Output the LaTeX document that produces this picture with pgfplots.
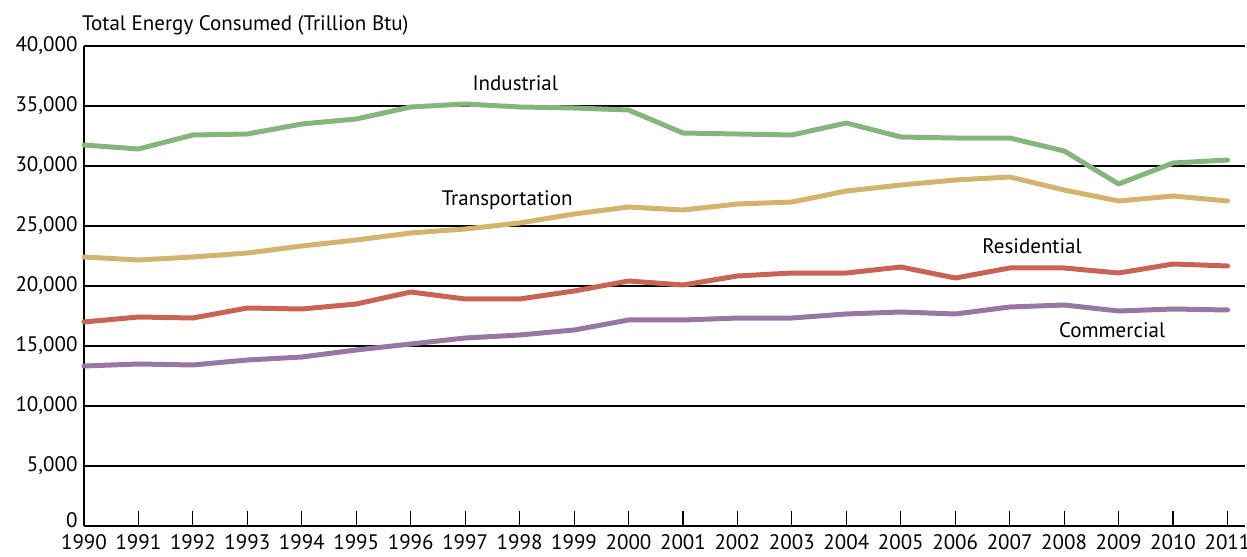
\documentclass[border=0pt]{standalone}
\usepackage{fontspec}
\setmainfont{PT Sans}
\usepackage{pgfplots}
\pgfplotsset{compat=1.18}

\definecolor{indgreen}{RGB}{133,181,125}
\definecolor{trnyellow}{RGB}{210,180,110}
\definecolor{resred}{RGB}{200,100,85}
\definecolor{compurple}{RGB}{150,120,160}

\newcommand{\chartfont}{\fontsize{21bp}{25bp}\selectfont}

\begin{document}
\begin{tikzpicture}[font=\chartfont]
\begin{axis}[
    scale only axis,
    width=1161bp, height=480bp,
    xmin=1990, xmax=2011.32,
    ymin=0, ymax=40000,
    axis lines*=left,
    axis line style={line width=2.5bp, black},
    xtick={1990,...,2011},
    ytick={5000,10000,...,40000},
    extra y ticks={0},
    extra y tick style={yticklabel style={yshift=6bp}},
    xtick pos=bottom,
    tick align=inside,
    major tick length=15bp,
    x tick style={line width=1.1bp, black},
    y tick style={draw=none},
    ymajorgrids,
    grid style={line width=1.3bp, black},
    tick label style={font=\chartfont},
    /pgf/number format/assume math mode=true,
    yticklabel style={/pgf/number format/1000 sep={,}, xshift=-3bp},
    xticklabel style={/pgf/number format/1000 sep=, inner sep=0.5bp, yshift=-8bp},
    scaled y ticks=false,
    clip=false,
    every axis plot/.append style={line width=5bp, line join=round, line cap=round},
]
\addplot[indgreen] coordinates {
(1990,31750) (1991,31417) (1992,32583) (1993,32667) (1994,33500) (1995,33917)
(1996,34917) (1997,35167) (1998,34917) (1999,34833) (2000,34667) (2001,32750)
(2002,32667) (2003,32583) (2004,33583) (2005,32417) (2006,32333) (2007,32333)
(2008,31250) (2009,28500) (2010,30250) (2011,30500)};
\addplot[trnyellow] coordinates {
(1990,22417) (1991,22167) (1992,22417) (1993,22750) (1994,23333) (1995,23833)
(1996,24417) (1997,24750) (1998,25250) (1999,26000) (2000,26583) (2001,26333)
(2002,26833) (2003,27000) (2004,27917) (2005,28417) (2006,28833) (2007,29083)
(2008,28000) (2009,27083) (2010,27500) (2011,27083)};
\addplot[resred] coordinates {
(1990,17000) (1991,17417) (1992,17333) (1993,18167) (1994,18083) (1995,18500)
(1996,19500) (1997,18917) (1998,18917) (1999,19583) (2000,20417) (2001,20083)
(2002,20833) (2003,21083) (2004,21083) (2005,21583) (2006,20667) (2007,21500)
(2008,21500) (2009,21083) (2010,21833) (2011,21667)};
\addplot[compurple] coordinates {
(1990,13333) (1991,13500) (1992,13417) (1993,13833) (1994,14083) (1995,14667)
(1996,15167) (1997,15667) (1998,15917) (1999,16333) (2000,17167) (2001,17167)
(2002,17333) (2003,17333) (2004,17667) (2005,17833) (2006,17667) (2007,18250)
(2008,18417) (2009,17917) (2010,18083) (2011,18000)};

\node at (axis cs:1997.92,36917) {Industrial};
\node at (axis cs:1997.77,27167) {Transportation};
\node at (axis cs:2007.41,23333) {Residential};
\node at (axis cs:2008.88,16333) {Commercial};
\node[anchor=base west, inner sep=0pt] at ([xshift=-2bp, yshift=15bp]rel axis cs:0,1) {Total Energy Consumed (Trillion Btu)};
\end{axis}
\pgfresetboundingbox
\path[use as bounding box] ([xshift=-84bp, yshift=-31bp]current axis.south west) rectangle +(1247bp,557bp);
\end{tikzpicture}
\end{document}
